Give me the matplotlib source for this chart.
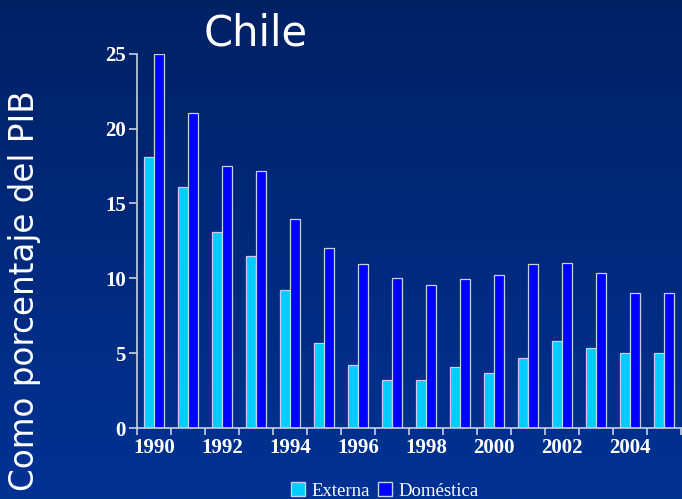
import numpy as np
import matplotlib
matplotlib.use("Agg")
import matplotlib.pyplot as plt
from matplotlib.patches import Patch

# data
years = list(range(1990, 2006))
externa = [18.1, 16.1, 13.1, 11.5, 9.25, 5.7, 4.2, 3.2, 3.2, 4.05, 3.7, 4.65, 5.8, 5.35, 5.0, 5.0]
domestica = [24.95, 21.05, 17.5, 17.15, 13.95, 12.0, 10.95, 10.0, 9.55, 9.95, 10.25, 10.95, 11.0, 10.35, 9.0, 9.0]
tick_years = [str(y) for y in years[::2]]

fig = plt.figure(figsize=(6.82, 4.99), dpi=100)

# background gradient
bg = fig.add_axes([0, 0, 1, 1])
grad = np.linspace(0, 1, 256).reshape(-1, 1)
top = np.array([0, 33, 100]) / 255
bot = np.array([0, 50, 148]) / 255
img = top + (bot - top) * grad[..., None]
bg.imshow(img, aspect="auto", extent=[0, 1, 0, 1])
bg.axis("off")

ax = fig.add_axes([137 / 682, 1 - 428 / 499, 1 - 137 / 682, (428 - 53.7) / 499])
ax.patch.set_alpha(0)

x = np.arange(len(years))
w = 0.28
edge = "#c8d0ee"
ax.bar(x - w / 2, externa, w, color="#00ccff", edgecolor=edge, linewidth=0.9, label="Externa")
ax.bar(x + w / 2, domestica, w, color="#0000ff", edgecolor=edge, linewidth=0.9, label="Doméstica")

ax.set_xlim(-0.5, 15.53)
ax.set_ylim(0, 25)
ax.set_yticks([0, 5, 10, 15, 20, 25])
ax.set_xticks(x[::2])
ax.set_xticklabels(tick_years)
ax.set_xticks(np.arange(-0.5, 16, 1), minor=True)
ax.tick_params(axis="x", which="major", length=0, pad=7)
ax.tick_params(axis="x", which="minor", length=5, width=1.2, color="#c8d0e0")
ax.tick_params(axis="y", length=6, width=1.2, color="#c8d0e0", pad=2)

for lab in ax.get_xticklabels() + ax.get_yticklabels():
    lab.set_fontfamily("Liberation Serif")
    lab.set_fontweight("bold")
    lab.set_fontsize(15)
    lab.set_color("white")

for s in ["top", "right"]:
    ax.spines[s].set_visible(False)
for s in ["left", "bottom"]:
    ax.spines[s].set_color("#c8d0e0")
    ax.spines[s].set_linewidth(1.2)

fig.text(256 / 682, 1 - 33 / 499, "Chile", fontsize=30, color="white",
         family="DejaVu Sans", ha="center", va="center")
fig.text(25 / 682, 1 - 291 / 499, "Como porcentaje del PIB", fontsize=23.5,
         color="white", family="DejaVu Sans", rotation=90, ha="center", va="center")

handles = [Patch(facecolor="#00ccff", edgecolor=edge, label="Externa"),
           Patch(facecolor="#0000ff", edgecolor=edge, label="Doméstica")]
leg = fig.legend(handles=handles, loc="center", bbox_to_anchor=(385 / 682, 1 - 491 / 499),
                 ncol=2, frameon=False, handlelength=0.75, handleheight=0.75,
                 handletextpad=0.35, columnspacing=0.4,
                 prop={"family": "Liberation Serif", "size": 13.5})
for t in leg.get_texts():
    t.set_color("white")

fig.savefig("out.png", dpi=100)
